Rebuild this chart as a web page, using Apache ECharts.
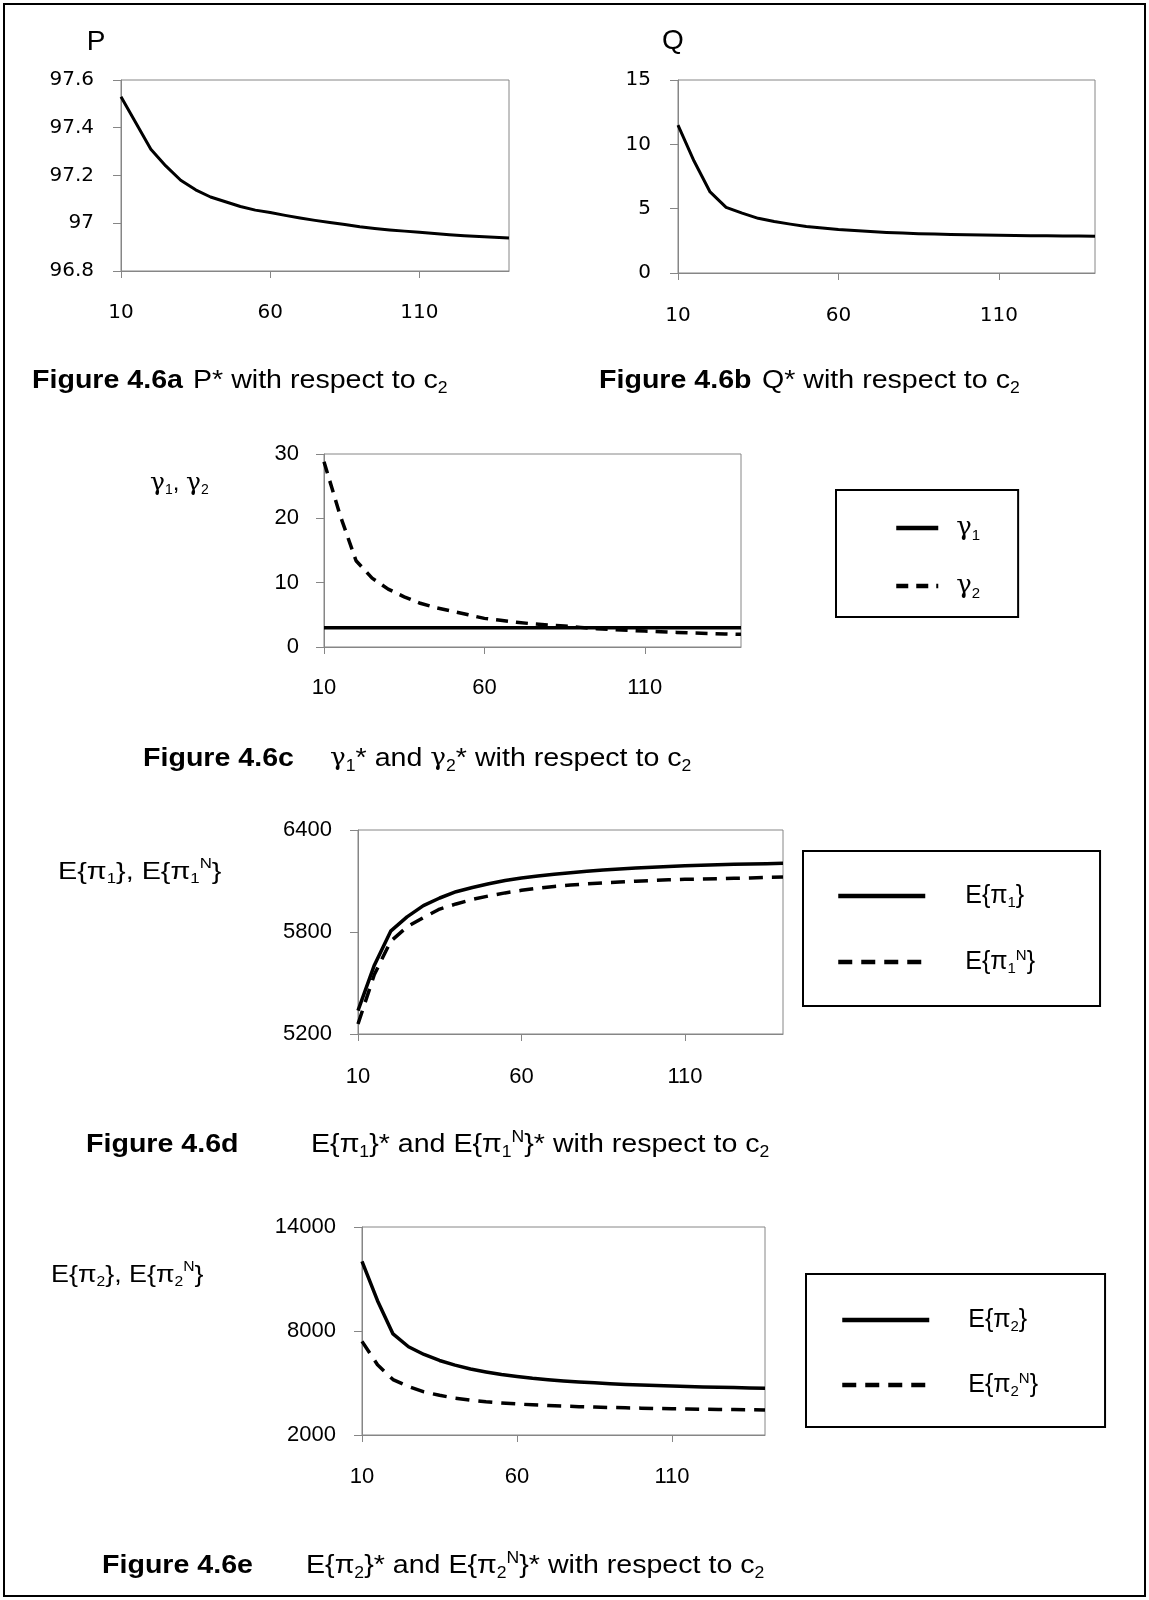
<!DOCTYPE html>
<html>
<head>
<meta charset="utf-8">
<script src="https://cdn.jsdelivr.net/npm/echarts@6/dist/echarts.min.js"></script>
<style>
html,body{margin:0;padding:0;background:#fff;}
#main{width:1149px;height:1600px;}
</style>
</head>
<body>
<div id="main"></div>
<script>
// c2 values (x axis, shared by all five panels)
var c2 = [10,15,20,25,30,35,40,45,50,55,60,65,70,75,80,85,90,95,100,105,110,115,120,125,130,135,140];

// 4.6a P*
var pStar = [97.53,97.42,97.31,97.24,97.18,97.14,97.11,97.09,97.07,97.055,97.045,97.033,97.022,97.012,97.003,96.995,96.985,96.978,96.972,96.967,96.962,96.957,96.952,96.948,96.944,96.941,96.938];
// 4.6b Q*
var qStar = [11.5,8.7,6.3,5.1,4.65,4.25,4.0,3.8,3.62,3.5,3.38,3.3,3.22,3.15,3.1,3.06,3.03,3.0,2.98,2.96,2.94,2.92,2.9,2.89,2.88,2.87,2.86];
// 4.6c gamma1*, gamma2*
var gamma1 = [3,3,3,3,3,3,3,3,3,3,3,3,3,3,3,3,3,3,3,3,3,3,3,3,3,3,3];
var gamma2 = [28.8,20.5,13.4,10.7,9.0,7.8,6.8,6.1,5.55,5.0,4.45,4.15,3.85,3.6,3.42,3.27,3.05,2.85,2.7,2.58,2.48,2.38,2.27,2.17,2.1,2.03,1.97];
// 4.6d E{pi1}, E{pi1N}
var ePi1 = [5338,5605,5805,5889,5955,6000,6037,6062,6084,6103,6118,6130,6140,6149,6157,6164,6170,6176,6181,6185,6189,6192,6195,6198,6200,6202,6204];
var ePi1N = [5259,5550,5745,5830,5885,5935,5965,5992,6012,6030,6045,6058,6068,6076,6083,6089,6094,6099,6103,6107,6110,6111,6113,6116,6118,6121,6123];
// 4.6e E{pi2}, E{pi2N}
var ePi2 = [12020,9750,7830,7090,6645,6300,6030,5805,5640,5490,5370,5270,5190,5120,5060,5010,4960,4920,4885,4855,4825,4800,4775,4755,4735,4715,4700];
var ePi2N = [7400,6050,5200,4800,4490,4290,4125,4010,3920,3850,3790,3740,3700,3665,3635,3610,3590,3570,3550,3530,3515,3500,3490,3478,3466,3455,3445];

// tick labels of panels d and e
var ticksD = [5200,5800,6400];
var ticksE = [2000,8000,14000];

var AX = '#868686';
var SANS = 'Liberation Sans';

function xAx(idx, fam, size, margin) {
	return {
		type: 'category', gridIndex: idx, data: c2, boundaryGap: false,
		axisLine: {lineStyle: {color: AX, width: 1}},
		axisTick: {show: true, interval: 9, length: 7, lineStyle: {color: AX}},
		axisLabel: {interval: 9, color: '#000', fontFamily: fam, fontSize: size, margin: margin}
	};
}

function yAx(idx, min, max, interval, fam, size, margin, custom) {
	var ax = {
		type: 'value', gridIndex: idx, min: min, max: max,
		splitLine: {show: false},
		axisLine: {show: true, lineStyle: {color: AX, width: 1}},
		axisTick: {show: true, length: 8, lineStyle: {color: AX}},
		axisLabel: {color: '#000', fontFamily: fam, fontSize: size, margin: margin}
	};
	if (custom) {
		ax.axisTick.customValues = custom;
		ax.axisLabel.customValues = custom;
		// no thousands separator, like the original
		ax.axisLabel.formatter = function(v) { return String(v); };
	} else {
		ax.interval = interval;
	}
	return ax;
}

function grid(l, t, w, h) {
	return {left: l, top: t, width: w, height: h, show: true, borderColor: AX, borderWidth: 1, backgroundColor: 'transparent'};
}

function line(name, idx, data, dash, w) {
	return {
		type: 'line', name: name, xAxisIndex: idx, yAxisIndex: idx, data: data,
		symbol: 'none', showSymbol: false, silent: true, color: '#000',
		lineStyle: {color: '#000', width: w || 3, type: dash || 'solid', cap: 'butt', join: 'round'}
	};
}

// rich text styles shared by captions, axis titles, legends
function rich(size, gsize) {
	var s = Math.round(size * 0.6);
	return {
		sub: {fontFamily: SANS, fontSize: s, lineHeight: s, verticalAlign: 'bottom'},
		sup: {fontFamily: SANS, fontSize: s, lineHeight: s, verticalAlign: 'top'},
		g: {fontFamily: 'DejaVu Serif', fontSize: gsize || size, lineHeight: Math.round(size * 1.2)}
	};
}

function txt(x, y, text, size, bold, sx, align, gsize) {
	return {
		type: 'text', x: x, y: y, scaleX: sx || 1, silent: true,
		style: {
			text: text, fill: '#000', fontFamily: SANS, fontSize: size, fontWeight: bold ? 'bold' : 'normal',
			lineHeight: Math.round(size * 1.2),
			align: align || 'left', textAlign: align || 'left',
			verticalAlign: 'middle', textVerticalAlign: 'middle',
			rich: rich(size, gsize)
		}
	};
}

var legendNames = {
	'γ1': '{g|γ}{sub|1}',
	'γ2': '{g|γ}{sub|2}',
	'E{π1}': 'E{π{sub|1}}',
	'E{π1N}': 'E{π{sub|1}{sup|N}}',
	'E{π2}': 'E{π{sub|2}}',
	'E{π2N}': 'E{π{sub|2}{sup|N}}'
};

function legend(names, left, top, pad, gap, iw, textPad, gsize) {
	return {
		data: names, orient: 'vertical', left: left, top: top, padding: pad, itemGap: gap,
		itemWidth: iw, itemHeight: 14, borderColor: '#000', borderWidth: 2, borderRadius: 0,
		selectedMode: false, backgroundColor: '#fff',
		itemStyle: {opacity: 0}, lineStyle: {width: 4.5},
		formatter: function(n) { return legendNames[n]; },
		textStyle: {color: '#000', fontFamily: SANS, fontSize: 25, lineHeight: 28, padding: [0, 0, 0, textPad], rich: rich(25, gsize)}
	};
}

var chart = echarts.init(document.getElementById('main'), null, {renderer: 'canvas'});
var option = {
	animation: false,
	backgroundColor: '#fff',
	grid: [
		grid(121, 80, 388, 191),
		grid(678, 80, 417, 193),
		grid(324, 454, 417, 193),
		grid(358, 830, 425, 204),
		grid(362, 1227, 403, 208)
	],
	xAxis: [
		xAx(0, 'DejaVu Sans', 20, 32),
		xAx(1, 'DejaVu Sans', 20, 33),
		xAx(2, SANS, 22, 30),
		xAx(3, SANS, 22, 32),
		xAx(4, SANS, 22, 31)
	],
	yAxis: [
		yAx(0, 96.8, 97.6, 0.2, 'DejaVu Sans', 20, 27),
		yAx(1, 0, 15, 5, 'DejaVu Sans', 20, 27),
		yAx(2, 0, 30, 10, SANS, 22, 25),
		yAx(3, 5200, 6400, null, SANS, 22, 26, ticksD),
		yAx(4, 2000, 14000, null, SANS, 22, 26, ticksE)
	],
	legend: [
		legend(['γ1', 'γ2'], 836, 490, [23, 38, 16, 58], 28, 42, 13, 26),
		legend(['E{π1}', 'E{π1N}'], 803, 851, [31, 65, 30, 33], 38, 87, 35),
		legend(['E{π2}', 'E{π2N}'], 806, 1274, [32, 67, 28, 34], 37, 87, 34)
	],
	series: [
		line('P*', 0, pStar),
		line('Q*', 1, qStar),
		line('γ1', 2, gamma1, 'solid', 3.5),
		line('γ2', 2, gamma2, [12, 8], 3.5),
		line('E{π1}', 3, ePi1, 'solid', 3.5),
		line('E{π1N}', 3, ePi1N, [14, 9], 3.5),
		line('E{π2}', 4, ePi2, 'solid', 3.5),
		line('E{π2N}', 4, ePi2N, [14, 9], 3.5)
	],
	graphic: [
		// page frame
		{type: 'rect', silent: true, z: -10, shape: {x: 4, y: 4, width: 1141, height: 1592}, style: {fill: 'none', stroke: '#000', lineWidth: 2}},
		// axis titles
		txt(96, 42, 'P', 28, false, 1, 'center'),
		txt(673, 41, 'Q', 28, false, 1, 'center'),
		txt(150, 483, '{g|γ}{sub|1}, {g|γ}{sub|2}', 24, false, 1, 'left', 25),
		txt(58, 872, 'E{π{sub|1}}, E{π{sub|1}{sup|N}}', 24, false, 1.2),
		txt(51, 1275, 'E{π{sub|2}}, E{π{sub|2}{sup|N}}', 24, false, 1.12),
		// captions
		txt(32, 381, 'Figure 4.6a', 26, true, 1.1),
		txt(193, 381, 'P* with respect to c{sub|2}', 26, false, 1.1),
		txt(599, 381, 'Figure 4.6b', 26, true, 1.1),
		txt(762, 381, 'Q* with respect to c{sub|2}', 26, false, 1.1),
		txt(143, 759, 'Figure 4.6c', 26, true, 1.1),
		txt(330, 759, '{g|γ}{sub|1}* and {g|γ}{sub|2}* with respect to c{sub|2}', 26, false, 1.1, 'left', 24),
		txt(86, 1145, 'Figure 4.6d', 26, true, 1.1),
		txt(311, 1145, 'E{π{sub|1}}* and E{π{sub|1}{sup|N}}* with respect to c{sub|2}', 26, false, 1.1),
		txt(102, 1566, 'Figure 4.6e', 26, true, 1.1),
		txt(306, 1566, 'E{π{sub|2}}* and E{π{sub|2}{sup|N}}* with respect to c{sub|2}', 26, false, 1.1)
	]
};
chart.setOption(option);
</script>
</body>
</html>
